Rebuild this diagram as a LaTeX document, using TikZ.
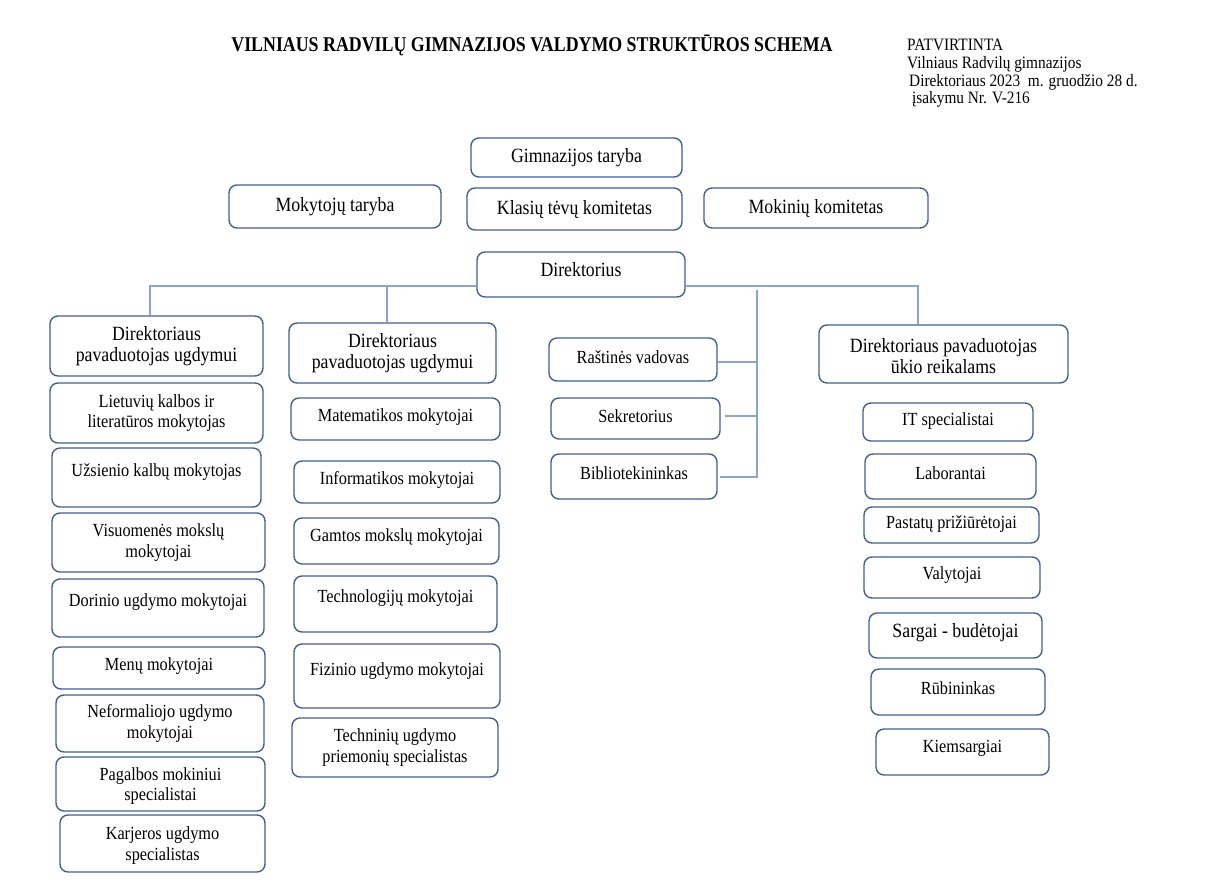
\documentclass[tikz,border=0pt]{standalone}
\usepackage{fontspec}
\setmainfont{Liberation Serif}
\newfontfamily\cf[FakeStretch=0.88]{Liberation Serif}
\newfontfamily\tf[FakeStretch=0.85]{Liberation Serif}
\definecolor{boxc}{HTML}{44608F}
\definecolor{linec}{HTML}{8CA3D2}
\tikzset{
  box/.style={draw=boxc, line width=1.4pt, rounded corners=8pt, fill=white, inner sep=0pt},
  txt/.style={inner sep=0pt, align=center, font=\cf\fontsize{18.5}{20.5}\selectfont},
  bigtxt/.style={txt, font=\cf\fontsize{20.2}{21}\selectfont},
  conn/.style={draw=linec, line width=1.1pt},
  hdr/.style={inner sep=0pt, anchor=west, font=\cf\fontsize{17.4}{18}\selectfont}
}
% \bx{name}{x1}{y1}{x2}{y2}{dy}{style}{text}
\newcommand\bx[8]{%
  \node[box, minimum width={(#4-#2)*1pt}, minimum height={(#5-#3)*1pt}] (#1) at ({(#2+#4)/2},{-(#3+#5)/2}) {};
  \node[#7] (#1-t) at ([yshift=#6pt]#1.center) {#8};}
\begin{document}
\begin{tikzpicture}[x=1pt,y=1pt]
\useasboundingbox[fill=white] (0,0) rectangle (1228,-880);
% header
\node[inner sep=0pt, font=\tf\fontsize{21}{22}\selectfont\bfseries] (title) at (532,-45) {VILNIAUS RADVILŲ GIMNAZIJOS VALDYMO STRUKTŪROS SCHEMA};
\node[hdr] (h1) at (907,-45) {PATVIRTINTA};
\node[hdr] (h2) at (907,-64) {Vilniaus Radvilų gimnazijos};
\node[hdr] (h3) at (909,-82) {Direktoriaus 2023\ \ m. gruodžio 28 d.};
\node[hdr] (h4) at (912,-99) {įsakymu Nr. V-216};
% top
\bx{gt}{471}{138}{682}{177}{0}{bigtxt}{Gimnazijos taryba}
\bx{mt}{229}{185}{441}{228}{0}{bigtxt}{Mokytojų taryba}
\bx{kt}{467}{188}{682}{230}{0}{bigtxt}{Klasių tėvų komitetas}
\bx{mk}{704}{188}{928}{228}{0}{bigtxt}{Mokinių komitetas}
\bx{dir}{477}{252}{685}{297}{4.5}{bigtxt}{Direktorius}
% left column
\bx{L0}{50}{316}{263}{376}{0}{bigtxt}{Direktoriaus\\pavaduotojas ugdymui}
\bx{L1}{50}{383}{263}{443}{0}{txt}{Lietuvių kalbos ir\\literatūros mokytojas}
\bx{L2}{52}{448}{261}{507}{5}{txt}{Užsienio kalbų mokytojas}
\bx{L3}{52}{513}{265}{572}{0}{txt}{Visuomenės mokslų\\mokytojai}
\bx{L4}{52}{579}{264}{637}{6}{txt}{Dorinio ugdymo mokytojai}
\bx{L5}{53}{647}{265}{689}{2}{txt}{Menų mokytojai}
\bx{L6}{56}{695}{264}{752}{0}{txt}{Neformaliojo ugdymo\\mokytojai}
\bx{L7}{56}{757}{265}{811}{-2}{txt}{Pagalbos mokiniui\\specialistai}
\bx{L8}{60}{815}{265}{872}{-2}{txt}{Karjeros ugdymo\\specialistas}
% middle column
\bx{M0}{289}{323}{496}{383}{0}{bigtxt}{Direktoriaus\\pavaduotojas ugdymui}
\bx{M1}{291}{398}{500}{440}{2}{txt}{Matematikos mokytojai}
\bx{M2}{294}{461}{500}{503}{2}{txt}{Informatikos mokytojai}
\bx{M3}{294}{518}{499}{564}{4}{txt}{Gamtos mokslų mokytojai}
\bx{M4}{294}{576}{497}{632}{6}{txt}{Technologijų mokytojai}
\bx{M5}{294}{644}{500}{708}{5}{txt}{Fizinio ugdymo mokytojai}
\bx{M6}{292}{718}{498}{777}{0}{txt}{Techninių ugdymo\\priemonių specialistas}
% office column
\bx{R1}{549}{338}{717}{381}{2.5}{txt}{Raštinės vadovas}
\bx{R2}{551}{398}{720}{439}{2.5}{txt}{Sekretorius}
\bx{R3}{551}{454}{717}{499}{3.5}{txt}{Bibliotekininkas}
% right column
\bx{U0}{819}{325}{1068}{383}{-2}{bigtxt}{Direktoriaus pavaduotojas\\ūkio reikalams}
\bx{U1}{863}{403}{1033}{441}{1}{txt}{IT specialistai}
\bx{U2}{865}{454}{1036}{499}{3.5}{txt}{Laborantai}
\bx{U3}{864}{507}{1039}{543}{1}{txt}{Pastatų prižiūrėtojai}
\bx{U4}{864}{557}{1040}{598}{2.5}{txt}{Valytojai}
\bx{U5}{869}{613}{1042}{658}{2.5}{bigtxt}{Sargai - budėtojai}
\bx{U6}{871}{669}{1045}{715}{4}{txt}{Rūbininkas}
\bx{U7}{876}{729}{1049}{775}{4}{txt}{Kiemsargiai}
% connectors
\coordinate (jl) at (150,-286);
\coordinate (jm) at (387,-286);
\coordinate (jr) at (918,-286);
\coordinate (bt) at (757,-290);
\coordinate (bb) at (757,-478);
\draw[conn] (dir.west |- jl) -- (jl) -- (jl |- L0.north);
\draw[conn] (jm) -- (jm |- M0.north);
\draw[conn] (dir.east |- jr) -- (jr) -- (jr |- U0.north);
\draw[conn] (bt) -- (bb);
\draw[conn] (R1.east |- 0,-362) -- (bt |- 0,-362);
\draw[conn] ([xshift=4pt]R2.east |- 0,-416) -- (bt |- 0,-416);
\draw[conn] ([xshift=2pt]R3.east |- 0,-477) -- (bt |- 0,-477);
\end{tikzpicture}
\end{document}
